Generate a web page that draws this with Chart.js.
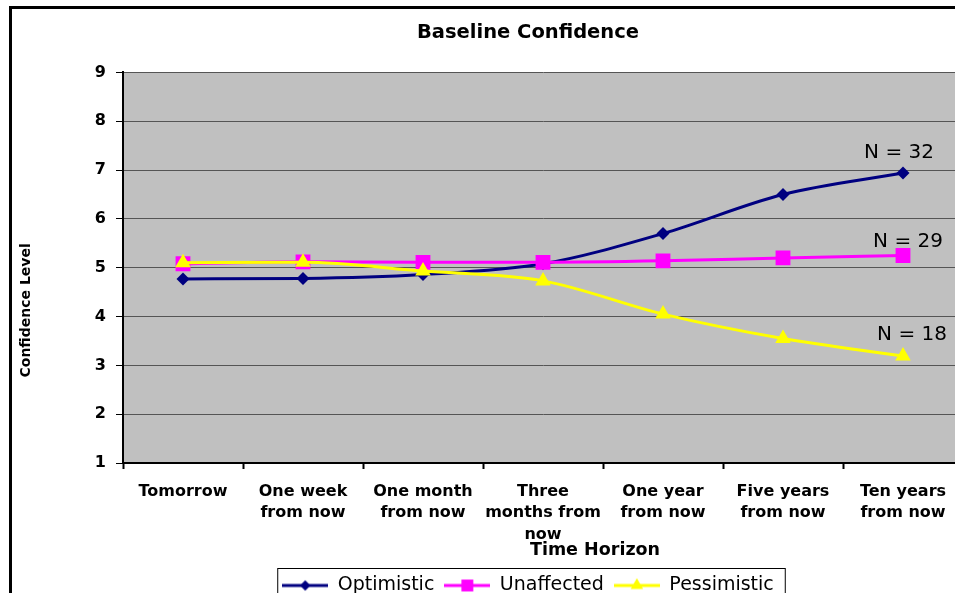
<!DOCTYPE html>
<html>
<head>
<meta charset="utf-8">
<script src="https://cdn.jsdelivr.net/npm/chart.js@4/dist/chart.umd.min.js"></script>
<style>
    body { margin: 0; background: #fff; width: 964px; height: 593px; overflow: hidden; }
    #frame {
        position: absolute; left: 9px; top: 6px;
        width: 943px; height: 600px; overflow: hidden;
        border-left: 3px solid #000; border-top: 3px solid #000;
    }
    #chartBox { position: relative; width: 1032px; height: 596px; }
</style>
</head>
<body>
<div id="frame">
    <div id="chartBox"><canvas id="chart" width="1032" height="596"></canvas></div>
</div>
<script>
// ---- data ----
const categories = [
    'Tomorrow',
    ['One week', 'from now'],
    ['One month', 'from now'],
    ['Three', 'months from', 'now'],
    ['One year', 'from now'],
    ['Five years', 'from now'],
    ['Ten years', 'from now']
];
const optimistic  = [4.77, 4.78, 4.86, 5.08, 5.70, 6.50, 6.94];
const unaffected  = [5.08, 5.12, 5.11, 5.11, 5.14, 5.20, 5.25];
const pessimistic = [5.10, 5.11, 4.93, 4.73, 4.05, 3.55, 3.19];
const seriesNames = ['Optimistic', 'Unaffected', 'Pessimistic'];
const nLabels = ['N = 32', 'N = 29', 'N = 18'];
const yMin = 1, yMax = 9;

const FONT = 'DejaVu Sans';
const colors = ['#000080', '#FF00FF', '#FFFF00'];
const styles = ['rectRot', 'rect', 'triangle'];
const radii = [6.5, 10.5, 9];

// legend swatch: a short line with the marker on it
function swatch(i) {
    const c = document.createElement('canvas');
    c.width = 46; c.height = 20;
    const g = c.getContext('2d');
    g.strokeStyle = colors[i]; g.lineWidth = 3;
    g.beginPath(); g.moveTo(0, 10); g.lineTo(46, 10); g.stroke();
    g.fillStyle = colors[i];
    Chart.helpers.drawPoint(g, { pointStyle: styles[i], radius: radii[i] * 0.8, borderWidth: 0 }, 23, 10);
    return c;
}

// ---- plugins ----
const plotBg = {
    id: 'plotBg',
    beforeDraw(chart) {
        const a = chart.chartArea, ctx = chart.ctx;
        ctx.save();
        ctx.fillStyle = '#C0C0C0';
        ctx.fillRect(a.left, a.top, a.right - a.left, a.bottom - a.top);
        ctx.restore();
    }
};

const extras = {
    id: 'extras',
    afterDatasetsDraw(chart) {
        const ctx = chart.ctx;
        ctx.save();
        ctx.fillStyle = '#000';
        ctx.font = '20px "' + FONT + '"';
        ctx.textAlign = 'center';
        ctx.textBaseline = 'middle';
        const dy = [-20, -14, -21];
        const dx = [-4, 5, 9];
        nLabels.forEach((t, i) => {
            const meta = chart.getDatasetMeta(i);
            const p = meta.data[meta.data.length - 1];
            ctx.fillText(t, p.x + dx[i], p.y + dy[i]);
        });
        ctx.restore();
    },
    afterDraw(chart) {
        const a = chart.chartArea, ctx = chart.ctx;
        ctx.save();
        ctx.fillStyle = '#000';
        ctx.textAlign = 'center';
        ctx.textBaseline = 'middle';
        // axis titles
        ctx.font = 'bold 17.5px "' + FONT + '"';
        ctx.fillText('Time Horizon', a.left + 472, a.bottom + 87);
        ctx.translate(a.left - 97, a.top + 238);
        ctx.rotate(-Math.PI / 2);
        ctx.font = 'bold 14px "' + FONT + '"';
        ctx.fillText('Confidence Level', 0, 0);
        ctx.restore();

        // box round the legend
        const boxes = chart.legend.legendHitBoxes;
        if (boxes && boxes.length) {
            const l = Math.min(...boxes.map(b => b.left)) - 5;
            const r = Math.max(...boxes.map(b => b.left + b.width)) + 11;
            const t = Math.min(...boxes.map(b => b.top)) - 8;
            const bt = Math.max(...boxes.map(b => b.top + b.height)) + 10;
            ctx.save();
            ctx.strokeStyle = '#000';
            ctx.lineWidth = 1;
            ctx.strokeRect(l + 0.5, t + 0.5, r - l, bt - t);
            ctx.restore();
        }
    }
};

// ---- datasets ----
const values = [optimistic, unaffected, pessimistic];
const datasets = values.map((v, i) => ({
    label: seriesNames[i],
    data: v,
    borderColor: colors[i],
    backgroundColor: colors[i],
    borderWidth: 3,
    pointStyle: styles[i],
    pointRadius: radii[i],
    pointBorderWidth: 0,
    cubicInterpolationMode: 'monotone',
    order: 3 - i
}));

new Chart(document.getElementById('chart'), {
    type: 'line',
    data: { labels: categories, datasets },
    options: {
        responsive: false,
        animation: false,
        devicePixelRatio: 1,
        layout: { padding: 0 },
        plugins: {
            tooltip: { enabled: false },
            title: {
                display: true,
                text: 'Baseline Confidence',
                color: '#000',
                font: { family: FONT, size: 19.5, weight: 'bold' },
                padding: { top: 12, bottom: 28 }
            },
            legend: {
                position: 'bottom',
                labels: {
                    color: '#000',
                    font: { family: FONT, size: 19 },
                    usePointStyle: true,
                    pointStyleWidth: 46,
                    boxHeight: 19,
                    padding: 10,
                    sort: (a, b) => a.datasetIndex - b.datasetIndex,
                    generateLabels(chart) {
                        return chart.data.datasets.map((d, i) => ({
                            text: d.label,
                            datasetIndex: i,
                            fontColor: '#000',
                            pointStyle: swatch(i),
                            lineWidth: 0,
                            hidden: false
                        }));
                    }
                }
            }
        },
        scales: {
            x: {
                type: 'category',
                offset: true,
                grid: {
                    offset: true,
                    drawOnChartArea: false,
                    drawTicks: true,
                    tickLength: 6,
                    tickColor: '#000',
                    tickWidth: 2
                },
                border: { color: '#000', width: 2 },
                ticks: {
                    color: '#000',
                    maxRotation: 0,
                    autoSkip: false,
                    padding: 12,
                    font: { family: FONT, size: 16, weight: 'bold', lineHeight: 1.34 }
                },
                afterFit: s => { s.height = 103; }
            },
            y: {
                min: yMin,
                max: yMax,
                ticks: {
                    stepSize: 1,
                    color: '#000',
                    padding: 10,
                    font: { family: FONT, size: 16, weight: 'bold' }
                },
                grid: {
                    color: '#555',
                    lineWidth: 1,
                    tickLength: 7,
                    tickColor: '#000',
                    tickWidth: 1
                },
                border: { color: '#000', width: 2 },
                afterFit: s => { s.width = 111; }
            },
            pad: {
                position: 'right',
                display: true,
                grid: { display: false },
                ticks: { display: false },
                border: { display: false },
                afterFit: s => { s.width = 81; }
            }
        }
    },
    plugins: [plotBg, extras]
});
</script>
</body>
</html>
